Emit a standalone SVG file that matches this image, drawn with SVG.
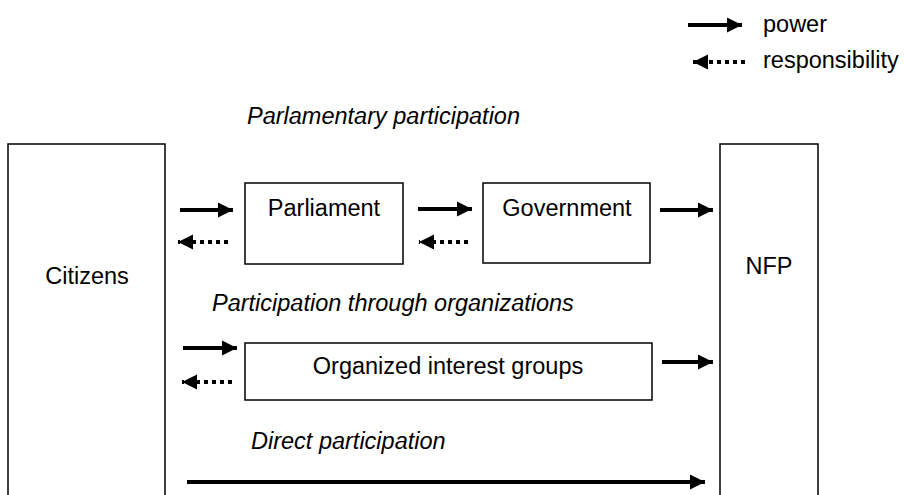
<svg xmlns="http://www.w3.org/2000/svg" width="904" height="495" viewBox="0 0 904 495">
<defs>
<style>
.box{fill:#fff;stroke:#000;stroke-width:1.5}
.t{font-family:"Liberation Sans",Arial,sans-serif;font-size:23.5px;fill:#000}
.i{font-style:italic}
.m{text-anchor:middle}
.p{stroke:#000;stroke-width:4;fill:none}
.r{stroke:#000;stroke-width:4;fill:none;stroke-dasharray:4 4}
</style>
<marker id="ah" viewBox="0 0 10 10" refX="10" refY="5" markerWidth="3.8" markerHeight="3.8" markerUnits="strokeWidth" orient="auto">
<path d="M0,0 L10,5 L0,10 Z" fill="#000"/>
</marker>
</defs>
<rect width="904" height="495" fill="#fff"/>
<g id="legend">
<line class="p" x1="688" y1="25" x2="742" y2="25" marker-end="url(#ah)"/>
<text class="t" x="763" y="32">power</text>
<line class="r" x1="745" y1="62" x2="693" y2="62" marker-end="url(#ah)"/>
<text class="t" x="763" y="68">responsibility</text>
</g>
<g id="citizens">
<path class="box" d="M8,500 V144 H165 V500"/>
<text class="t m" x="87" y="284">Citizens</text>
</g>
<g id="nfp">
<path class="box" d="M720,500 V144 H818 V500"/>
<text class="t m" x="769" y="274">NFP</text>
</g>
<g id="parliament">
<rect class="box" x="245" y="183" width="158" height="81"/>
<text class="t m" x="324" y="216">Parliament</text>
</g>
<g id="government">
<rect class="box" x="483" y="183" width="167" height="80"/>
<text class="t m" x="567" y="216">Government</text>
</g>
<g id="organized">
<rect class="box" x="245" y="343" width="407" height="57"/>
<text class="t m" x="448" y="374">Organized interest groups</text>
</g>
<g id="labels">
<text class="t i" x="247" y="124">Parlamentary participation</text>
<text class="t i" x="212" y="311">Participation through organizations</text>
<text class="t i" x="251" y="449">Direct participation</text>
</g>
<g id="connectors">
<line class="p" x1="180" y1="210" x2="233" y2="210" marker-end="url(#ah)"/>
<line class="r" x1="228" y1="242" x2="178" y2="242" marker-end="url(#ah)"/>
<line class="p" x1="418" y1="209" x2="472" y2="209" marker-end="url(#ah)"/>
<line class="r" x1="468" y1="242" x2="419" y2="242" marker-end="url(#ah)"/>
<line class="p" x1="660" y1="210" x2="713" y2="210" marker-end="url(#ah)"/>
<line class="p" x1="183" y1="348" x2="237" y2="348" marker-end="url(#ah)"/>
<line class="r" x1="232" y1="382" x2="182" y2="382" marker-end="url(#ah)"/>
<line class="p" x1="662" y1="362" x2="713" y2="362" marker-end="url(#ah)"/>
<line class="p" x1="187" y1="482" x2="705" y2="482" marker-end="url(#ah)"/>
</g>
</svg>
